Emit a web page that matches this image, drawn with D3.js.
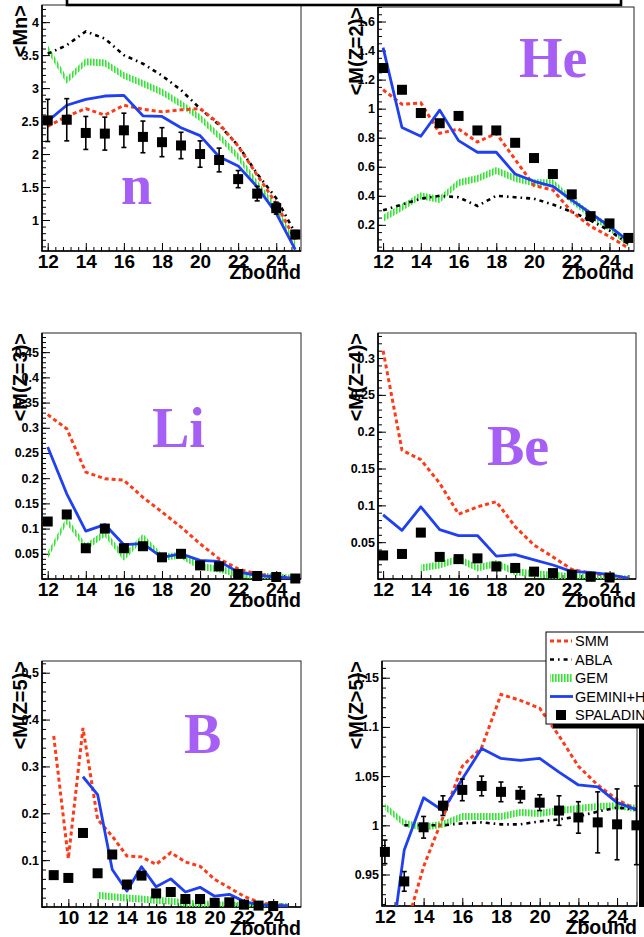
<!DOCTYPE html>
<html>
<head>
<meta charset="utf-8">
<script src="https://cdn.jsdelivr.net/npm/d3@7"></script>
<style>
body { margin:0; background:#fff; }
svg { display:block; }
</style>
</head>
<body>
<script>
// --- data ---
const zAll = [12,13,14,15,16,17,18,19,20,21,22,23,24,25];

const nData   = [2.51,2.52,2.32,2.31,2.36,2.26,2.18,2.13,2.00,1.91,1.62,1.40,1.18,0.78];
const nErr    = [0.32,0.32,0.25,0.25,0.26,0.24,0.22,0.20,0.20,0.18,0.13,0.11,0.09,0.06];
const nSMM    = [2.42,2.57,2.69,2.59,2.74,2.68,2.64,2.67,2.69,2.46,2.12,1.68,1.25,0.70];
const nABLA   = [3.52,3.65,3.86,3.75,3.50,3.37,3.19,2.97,2.69,2.44,2.13,1.70,1.33,0.80];
const nGEM    = [3.60,3.12,3.40,3.38,3.19,3.07,2.94,2.76,2.55,2.27,1.96,1.55,1.18,0.62];
const nGEMINI = [2.50,2.74,2.83,2.88,2.89,2.58,2.57,2.40,2.28,1.96,1.82,1.50,1.10,0.55];

const heData   = [1.28,1.13,0.97,0.90,0.95,0.85,0.85,0.765,0.66,0.55,0.41,0.26,0.21,0.11];
const heSMM    = [1.13,1.03,1.04,0.83,0.86,0.77,0.83,0.65,0.47,0.44,0.29,0.19,0.12,0.04];
const heABLA   = [0.30,0.34,0.38,0.40,0.39,0.33,0.40,0.39,0.38,0.34,0.29,0.23,0.16,0.07];
const heGEM    = [0.245,0.32,0.40,0.375,0.49,0.52,0.575,0.52,0.49,0.49,0.37,0.27,0.18,0.075];
const heGEMINI = [1.42,0.87,0.81,0.99,0.78,0.70,0.70,0.55,0.50,0.465,0.37,0.28,0.19,0.09];

const liData   = [0.114,0.128,0.061,0.100,0.061,0.065,0.043,0.050,0.027,0.025,0.010,0.006,0.004,0.001];
const liSMM    = [0.326,0.298,0.212,0.199,0.196,0.162,0.133,0.103,0.070,0.040,0.020,0.010,0.004,0.001];
const liGEM    = [0.047,0.116,0.063,0.091,0.043,0.083,0.043,0.047,0.025,0.020,0.010,0.006,0.004,0.001];
const liGEMINI = [0.262,0.169,0.095,0.108,0.068,0.070,0.043,0.050,0.037,0.035,0.014,0.007,0.004,0.001];

const beZData  = [12,13,14,15,16,17,18,19,20,21,22,23,24];
const beData   = [0.032,0.034,0.063,0.030,0.027,0.028,0.017,0.015,0.010,0.008,0.006,0.003,0.002];
const beSMM    = [0.310,0.175,0.162,0.130,0.088,0.098,0.105,0.071,0.046,0.030,0.013,0.008,0.004,0.001];
const beGEMINI = [0.087,0.066,0.098,0.067,0.059,0.059,0.031,0.033,0.026,0.019,0.010,0.009,0.006,0.001];
const beZGEM   = [14,15,16,17,18,19,20,21,22,23,24,25];
const beGEM    = [0.015,0.019,0.027,0.015,0.021,0.010,0.007,0.005,0.003,0.002,0.001,0.000];

const bZData   = [9,10,11,12,13,14,15,16,17,18,19,20,21,22,23,24];
const bData    = [0.068,0.062,0.158,0.072,0.112,0.048,0.067,0.029,0.032,0.017,0.017,0.009,0.010,0.005,0.003,0.002];
const bZSMM    = [9,10,11,12,13,14,15,16,17,18,19,20,21,22,23,24,25];
const bSMM     = [0.365,0.103,0.382,0.187,0.151,0.109,0.107,0.091,0.116,0.096,0.087,0.059,0.041,0.023,0.010,0.005,0.002];
const bZGEMINI = [11,12,13,14,15,16,17,18,19,20,21,22,23,24,25];
const bGEMINI  = [0.278,0.240,0.080,0.034,0.086,0.043,0.060,0.032,0.042,0.023,0.027,0.012,0.005,0.003,0.003];
const bZGEM    = [12,13,14,15,16,17,18,19,20,21,22,23,24,25];
const bGEM     = [0.025,0.022,0.019,0.017,0.014,0.013,0.008,0.007,0.005,0.004,0.003,0.002,0.001,0.001];

const hvData   = [0.973,0.943,0.998,1.020,1.036,1.040,1.034,1.031,1.023,1.015,1.008,1.003,1.001,1.000];
const hvErr    = [0.012,0.010,0.011,0.010,0.011,0.010,0.010,0.008,0.008,0.015,0.016,0.031,0.036,0.040];
const hvZ13    = [13,14,15,16,17,18,19,20,21,22,23,24,25];
const hvSMM    = [0.890,0.958,1.008,1.060,1.079,1.133,1.127,1.119,1.091,1.060,1.041,1.026,1.016];
const hvABLA   = [1.000,1.000,1.000,1.002,1.003,1.001,1.001,1.004,1.006,1.009,1.014,1.018,1.016];
const hvGEM    = [1.019,1.002,0.998,1.001,1.009,1.009,1.009,1.013,1.012,1.015,1.017,1.019,1.020,1.017];
const hvGEMINI = [0.830,0.975,1.028,1.015,1.047,1.078,1.068,1.066,1.068,1.054,1.041,1.039,1.023,1.016];

const xTicks12 = [12,14,16,18,20,22,24];
const xTicks10 = [10,12,14,16,18,20,22,24];
const nTicks   = [1,1.5,2,2.5,3,3.5,4];
const heTicks  = [0.2,0.4,0.6,0.8,1,1.2,1.4,1.6];
const liTicks  = [0.05,0.1,0.15,0.2,0.25,0.3,0.35,0.4,0.45];
const beTicks  = [0.05,0.1,0.15,0.2,0.25,0.3];
const bTicks   = [0.1,0.2,0.3,0.4,0.5];
const hvTicks  = [0.95,1,1.05,1.1,1.15];

const legendNames = ["SMM","ABLA","GEM","GEMINI+HF","SPALADIN"];

// --- styles ---
const RED = "#ff3a1a", BLUE = "#1f3ff0", GREEN = "#33e633", PURPLE = "#a55ff5";
const SANS = "'Liberation Sans', Arial, Helvetica, sans-serif";
const SERIF = "'Liberation Serif', 'Times New Roman', serif";

const svg = d3.select("body").append("svg").attr("width",644).attr("height",937);
const defs = svg.append("defs");
const pat = defs.append("pattern").attr("id","hatch")
    .attr("patternUnits","userSpaceOnUse").attr("width",3).attr("height",10);
pat.append("rect").attr("x",0).attr("y",0).attr("width",1.6).attr("height",10).attr("fill",GREEN);

const panels = [
  {id:"n", x0:42, x1:301, y0:5, y1:251, xdom:[11.7,25.3], ydom:[0.53,4.26],
   xticks:xTicks12, xminor:0.4, yticks:nTicks, yminor:0.1, ytitle:"<Mn>", tx:27,
   label:"n", lx:121, ly:204,
   gem:[zAll,nGEM], abla:[zAll,nABLA], smm:[zAll,nSMM], gemini:[zAll,nGEMINI], data:[zAll,nData,nErr]},
  {id:"he", x0:378, x1:634, y0:7, y1:251, xdom:[11.73,25.3], ydom:[0.02,1.70],
   xticks:xTicks12, xminor:0.5, yticks:heTicks, yminor:0.05, ytitle:"<M(Z=2)>", tx:363,
   label:"He", lx:519, ly:77,
   gem:[zAll,heGEM], abla:[zAll,heABLA], smm:[zAll,heSMM], gemini:[zAll,heGEMINI], data:[zAll,heData]},
  {id:"li", x0:42, x1:301, y0:333, y1:579, xdom:[11.7,25.3], ydom:[0,0.488],
   xticks:xTicks12, xminor:0.4, yticks:liTicks, yminor:0.01, ytitle:"<M(Z=3)>", tx:27,
   label:"Li", lx:152, ly:447,
   gem:[zAll,liGEM], smm:[zAll,liSMM], gemini:[zAll,liGEMINI], data:[zAll,liData]},
  {id:"be", x0:378, x1:636, y0:333, y1:579, xdom:[11.73,25.4], ydom:[0,0.334],
   xticks:xTicks12, xminor:0.5, yticks:beTicks, yminor:0.01, ytitle:"<M(Z=4)>", tx:363,
   label:"Be", lx:487, ly:465,
   gem:[beZGEM,beGEM], smm:[zAll,beSMM], gemini:[zAll,beGEMINI], data:[beZData,beData]},
  {id:"b", x0:42, x1:301, y0:661, y1:907, xdom:[8.2,25.9], ydom:[0,0.525],
   xticks:xTicks10, xminor:0.5, yticks:bTicks, yminor:0.02, ytitle:"<M(Z=5)>", tx:27,
   label:"B", lx:184, ly:753,
   gem:[bZGEM,bGEM], smm:[bZSMM,bSMM], gemini:[bZGEMINI,bGEMINI], data:[bZData,bData]},
  {id:"hv", x0:382, x1:637, y0:661, y1:906, xdom:[11.85,25.03], ydom:[0.918,1.167],
   xticks:xTicks12, xminor:0.5, yticks:hvTicks, yminor:0.01, ytitle:"<M(Z>5)>", tx:363,
   label:null,
   gem:[zAll,hvGEM], abla:[hvZ13,hvABLA], smm:[hvZ13,hvSMM], gemini:[zAll,hvGEMINI], data:[zAll,hvData,hvErr]}
];

function minors(dom, step) {
  let out = [];
  let k = Math.ceil(dom[0]/step - 1e-9);
  for (; k*step <= dom[1] + 1e-9; k++) out.push(+(k*step).toFixed(4));
  return out;
}

panels.forEach(drawPanel);

function drawPanel(p) {
  const g = svg.append("g");
  const sx = d3.scaleLinear(p.xdom, [p.x0, p.x1]);
  const sy = d3.scaleLinear(p.ydom, [p.y1, p.y0]);

  defs.append("clipPath").attr("id","clip-"+p.id).append("rect")
      .attr("x",p.x0).attr("y",p.y0).attr("width",p.x1-p.x0).attr("height",p.y1-p.y0);

  // x axis
  g.append("g").attr("transform",`translate(0,${p.y1})`)
      .call(d3.axisBottom(sx).tickValues(minors(p.xdom,p.xminor)).tickSize(-4).tickFormat(""))
      .call(a => a.select(".domain").remove());
  g.append("g").attr("transform",`translate(0,${p.y1})`)
      .call(d3.axisBottom(sx).tickValues(p.xticks).tickSize(-8).tickPadding(3).tickFormat(d3.format("d")))
      .call(a => a.select(".domain").remove())
      .attr("font-size",19).attr("font-family",SANS).attr("font-weight","bold");

  // y axis
  g.append("g").attr("transform",`translate(${p.x0},0)`)
      .call(d3.axisLeft(sy).tickValues(minors(p.ydom,p.yminor)).tickSize(-4).tickFormat(""))
      .call(a => a.select(".domain").remove());
  g.append("g").attr("transform",`translate(${p.x0},0)`)
      .call(d3.axisLeft(sy).tickValues(p.yticks).tickSize(-8).tickPadding(3).tickFormat(d => String(+d.toFixed(3))))
      .call(a => a.select(".domain").remove())
      .attr("font-size",12.5).attr("font-family",SANS).attr("font-weight","bold");

  // frame
  g.append("rect").attr("x",p.x0).attr("y",p.y0).attr("width",p.x1-p.x0).attr("height",p.y1-p.y0)
      .attr("fill","none").attr("stroke","#222").attr("stroke-width",1);
  g.append("path").attr("d",`M${p.x0},${p.y0}V${p.y1}H${p.x1}`)
      .attr("fill","none").attr("stroke","#000").attr("stroke-width",1.6);

  // label
  if (p.label) {
    g.append("text").attr("x",p.lx).attr("y",p.ly).text(p.label)
        .attr("font-family",SERIF).attr("font-weight","bold").attr("font-size",56)
        .attr("fill",PURPLE);
  }

  const plot = g.append("g").attr("clip-path",`url(#clip-${p.id})`);
  const line = d3.line().x(d => sx(d[0])).y(d => sy(d[1]));
  const band = d3.area().x(d => sx(d[0])).y0(d => sy(d[1]) + 3.5).y1(d => sy(d[1]) - 3.5);

  if (p.gem) plot.append("path").datum(d3.zip(p.gem[0],p.gem[1]))
      .attr("d",band).attr("fill","url(#hatch)");
  if (p.abla) plot.append("path").datum(d3.zip(p.abla[0],p.abla[1]))
      .attr("d",line).attr("fill","none").attr("stroke","#000")
      .attr("stroke-width",2.6).attr("stroke-dasharray","4,4,1.6,4");
  if (p.smm) plot.append("path").datum(d3.zip(p.smm[0],p.smm[1]))
      .attr("d",line).attr("fill","none").attr("stroke",RED)
      .attr("stroke-width",3).attr("stroke-dasharray","4,3");
  if (p.gemini) plot.append("path").datum(d3.zip(p.gemini[0],p.gemini[1]))
      .attr("d",line).attr("fill","none").attr("stroke",BLUE)
      .attr("stroke-width",2.8).attr("stroke-linejoin","round");

  // measured points
  const pts = d3.zip(p.data[0], p.data[1], p.data[2] || p.data[0].map(() => 0));
  const err = g.append("g").attr("stroke","#000").attr("stroke-width",1.6);
  pts.filter(d => d[2] > 0).forEach(d => {
    const x = sx(d[0]), ya = sy(d[1]-d[2]), yb = sy(d[1]+d[2]);
    err.append("line").attr("x1",x).attr("x2",x).attr("y1",ya).attr("y2",yb);
    err.append("line").attr("x1",x-2.5).attr("x2",x+2.5).attr("y1",ya).attr("y2",ya);
    err.append("line").attr("x1",x-2.5).attr("x2",x+2.5).attr("y1",yb).attr("y2",yb);
  });
  g.append("g").selectAll("rect").data(pts).join("rect")
      .attr("x",d => sx(d[0]) - 5).attr("y",d => sy(d[1]) - 5)
      .attr("width",10).attr("height",10).attr("fill","#000");

  // titles
  g.append("text").attr("transform",`translate(${p.tx},${p.y0}) rotate(-90)`)
      .attr("text-anchor","end").text(p.ytitle)
      .attr("font-family",SANS).attr("font-weight","bold").attr("font-size",20);
  g.append("text").attr("x",p.x1).attr("y",p.y1 + 28).attr("text-anchor","end").text("Zbound")
      .attr("font-family",SANS).attr("font-weight","bold").attr("font-size",19.5);
}

// title pave at the top (cut by the page edge)
svg.append("rect").attr("x",67).attr("y",-20).attr("width",554).attr("height",25)
    .attr("fill","#fff").attr("stroke","#000").attr("stroke-width",2.6);

// legend
const lg = svg.append("g");
lg.append("rect").attr("x",553).attr("y",724).attr("width",100).attr("height",4.5).attr("fill","#000");
lg.append("rect").attr("x",639).attr("y",726).attr("width",6).attr("height",181).attr("fill","#000");
lg.append("rect").attr("x",546).attr("y",632).attr("width",110).attr("height",92)
    .attr("fill","#fff").attr("stroke","#000").attr("stroke-width",1);

const legY = d3.scalePoint(legendNames, [641, 715]);
legendNames.forEach((name, i) => {
  const y = legY(name);
  if (i === 0) lg.append("line").attr("x1",550).attr("x2",572).attr("y1",y).attr("y2",y)
      .attr("stroke",RED).attr("stroke-width",3).attr("stroke-dasharray","4,3");
  if (i === 1) lg.append("line").attr("x1",550).attr("x2",572).attr("y1",y).attr("y2",y)
      .attr("stroke","#000").attr("stroke-width",2.6).attr("stroke-dasharray","4,4,1.6,4");
  if (i === 2) lg.append("rect").attr("x",550).attr("y",y-4).attr("width",23).attr("height",8)
      .attr("fill","url(#hatch)");
  if (i === 3) lg.append("line").attr("x1",550).attr("x2",573).attr("y1",y).attr("y2",y)
      .attr("stroke",BLUE).attr("stroke-width",2.8);
  if (i === 4) lg.append("rect").attr("x",556).attr("y",y-5).attr("width",10).attr("height",10).attr("fill","#000");
  lg.append("text").attr("x",575).attr("y",y).attr("dy","0.36em").text(name)
      .attr("font-family",SANS).attr("font-size",14.5);
});
</script>
</body>
</html>
